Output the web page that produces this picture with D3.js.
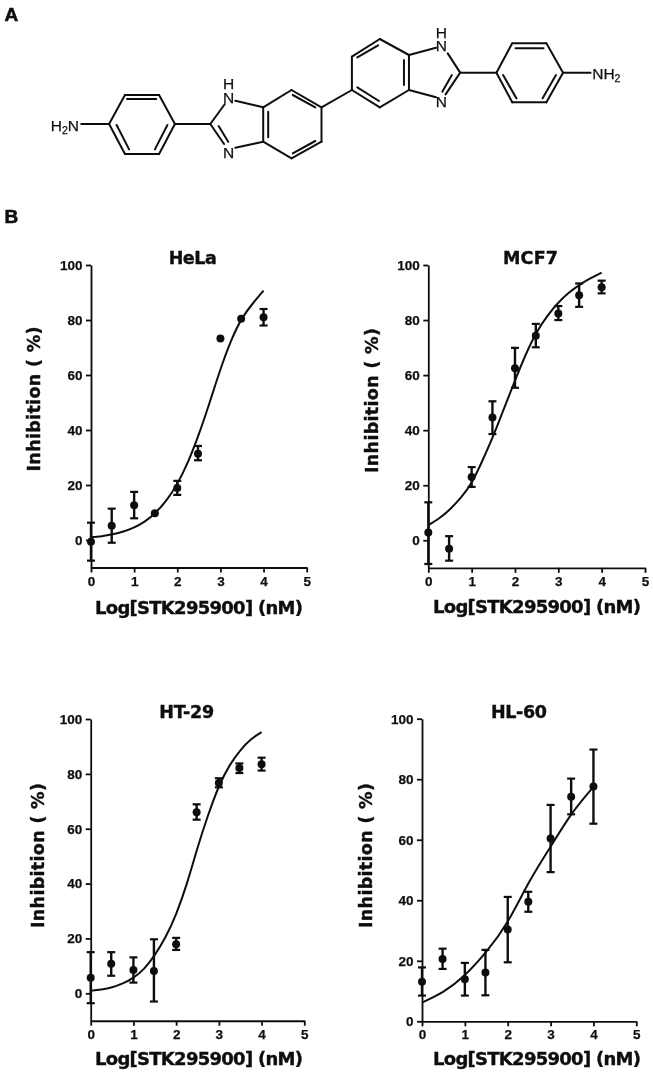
<!DOCTYPE html>
<html><head><meta charset="utf-8">
<script src="https://cdn.jsdelivr.net/npm/d3@7"></script>
<style>html,body{margin:0;padding:0;background:#fff}svg{display:block}</style>
</head><body><svg id="c" width="653" height="1073"></svg>
<script>
// ---------- data ----------
const doses = [0, 0.48, 1, 1.48, 2, 2.48, 3, 3.48, 4];
const xTicks = [0, 1, 2, 3, 4, 5];
const yTicks = [0, 20, 40, 60, 80, 100];
const xLabel = "Log[STK295900] (nM)";
const yLabel = "Inhibition ( %)";

const helaMean = [-0.6, 5.2, 12.6, 9.7, 18.9, 31.4, 73.3, 80.5, 81];
const helaHigh = [6.3, 11.4, 17.5, 9.7, 21.5, 34.2, 73.3, 80.5, 84];
const helaLow  = [-7.5, -1, 7.9, 9.7, 16.4, 29, 73.3, 80.5, 78];
const helaCurveX = [0, 0.25, 0.5, 0.75, 1, 1.25, 1.5, 1.75, 2, 2.25, 2.5, 2.75, 3, 3.25, 3.5, 3.75, 4];
const helaCurveY = [1, 1.4, 2.1, 3.1, 4.6, 6.8, 10, 14.5, 20.5, 28.5, 38.5, 50, 62, 72.5, 80.5, 86, 90.7];

const mcfMean = [2.8, -3.1, 23, 44.6, 62.5, 74.3, 82.4, 89, 91.9];
const mcfHigh = [13.8, 1.5, 26.6, 50.5, 69.9, 78.6, 85.1, 93.3, 94.3];
const mcfLow  = [-8.6, -7.4, 19.4, 38.6, 55.4, 70.1, 80, 84.8, 89.7];
const mcfCurveX = helaCurveX;
const mcfCurveY = [5.5, 8, 11.3, 15.5, 21, 29, 38, 48, 58, 67.5, 75.5, 81.5, 86.3, 90, 92.9, 95.2, 97.2];

const htMean = [5.7, 10.8, 8.5, 8.1, 17.9, 66, 76.7, 82.1, 83.5];
const htHigh = [15, 15, 13.1, 19.7, 20.2, 68.9, 78.4, 83.8, 85.9];
const htLow  = [-3.6, 6.4, 3.9, -3, 15.8, 63.3, 75.1, 80.3, 81.2];
const htCurveX = helaCurveX;
const htCurveY = [0.9, 1.4, 2.2, 3.6, 5.7, 9, 14, 20.5, 29, 40, 53, 65, 75.3, 83, 88.5, 92.5, 95.2];

const hlMean = [13.1, 20.6, 13.9, 16.1, 30.3, 39.5, 60.4, 74.2, 77.6];
const hlHigh = [17.8, 24, 19.3, 23.6, 41.1, 42.8, 71.5, 80.2, 89.8];
const hlLow  = [8.5, 17.3, 8.5, 8.6, 19.5, 36.2, 49.3, 68.4, 65.3];
const hlCurveX = [0, 0.5, 1, 1.5, 2, 2.5, 3, 3.5, 4];
const hlCurveY = [6.2, 9.8, 15.3, 23, 33, 46, 57.7, 68.7, 77.5];

// ---------- layout ----------
const panels = [
 {name:"HeLa", mean:helaMean, hi:helaHigh, lo:helaLow, cx:helaCurveX, cy:helaCurveY, x0:91, x5:306.7, y100:265, y0:540, yMin:-10,
  tx:192.7, ty:264, tw:48, xlx:199, xly:614, ylx:40, yly:399},
 {name:"MCF7", mean:mcfMean, hi:mcfHigh, lo:mcfLow, cx:mcfCurveX, cy:mcfCurveY, x0:428.3, x5:645, y100:265, y0:540.3, yMin:-10,
  tx:530.5, ty:264, tw:55, xlx:537, xly:613, ylx:378, yly:400.5},
 {name:"HT-29", mean:htMean, hi:htHigh, lo:htLow, cx:htCurveX, cy:htCurveY, x0:90.7, x5:304.3, y100:719, y0:993.3, yMin:-10,
  tx:186.7, ty:718, tw:55, xlx:199, xly:1065, ylx:44, yly:855.5},
 {name:"HL-60", mean:hlMean, hi:hlHigh, lo:hlLow, cx:hlCurveX, cy:hlCurveY, x0:422, x5:636.3, y100:718.7, y0:1021.3, yMin:0,
  tx:519, ty:718, tw:56, xlx:537, xly:1065, ylx:372, yly:855.5}
];

const svg = d3.select("#c");
const titleFont = "'DejaVu Sans', Verdana, sans-serif";
const tickFont = "'Liberation Sans', Arial, sans-serif";
svg.append("defs").append("filter").attr("id","soft").append("feGaussianBlur").attr("stdDeviation",0.3);
const root = svg.append("g").attr("filter","url(#soft)");

panels.forEach(p => {
  const x = d3.scaleLinear().domain([0,5]).range([p.x0,p.x5]);
  const y = d3.scaleLinear().domain([0,100]).range([p.y0,p.y100]);
  const g = root.append("g");
  const yBottom = y(p.yMin);

  const ax = g.append("g").attr("transform",`translate(0,${yBottom})`)
    .call(d3.axisBottom(x).tickValues(xTicks).tickFormat(d3.format("d")).tickSize(5).tickPadding(3.5).tickSizeOuter(0));
  const ay = g.append("g").attr("transform",`translate(${p.x0},0)`)
    .call(d3.axisLeft(y.copy().domain([p.yMin,100]).range([yBottom,p.y100])).tickValues(yTicks).tickFormat(d3.format("d")).tickSize(5).tickPadding(3.5).tickSizeOuter(0));
  [ax,ay].forEach(a=>{
    a.selectAll("path,line").attr("stroke","#111").attr("stroke-width",1.8);
    a.selectAll("text").attr("font-family",tickFont).attr("font-weight","bold").attr("font-size",13.5).attr("fill","#111")
      .attr("stroke","#111").attr("stroke-width",0.25);
  });

  const line = d3.line().x(d=>x(d[0])).y(d=>y(d[1])).curve(d3.curveNatural);
  g.append("path").datum(d3.zip(p.cx,p.cy)).attr("d",line)
    .attr("fill","none").attr("stroke","#111").attr("stroke-width",2);

  const rows = doses.map((d,i)=>({d,m:p.mean[i],h:p.hi[i],l:p.lo[i]}));
  const bars = rows.filter(r=>r.h!==r.l);
  g.selectAll(".eb").data(bars).join("line").attr("x1",r=>x(r.d)).attr("x2",r=>x(r.d))
    .attr("y1",r=>y(r.h)).attr("y2",r=>y(r.l)).attr("stroke","#111").attr("stroke-width",2.4);
  ["h","l"].forEach(k=>{
    g.selectAll(".cap"+k).data(bars).join("line").attr("x1",r=>x(r.d)-4).attr("x2",r=>x(r.d)+4)
      .attr("y1",r=>y(r[k])).attr("y2",r=>y(r[k])).attr("stroke","#111").attr("stroke-width",2.2);
  });
  g.selectAll(".pt").data(rows).join("circle").attr("cx",r=>x(r.d)).attr("cy",r=>y(r.m)).attr("r",4).attr("fill","#111");

  const lab = (t,xp,yp,len,size,rot) => {
    const e = g.append("text").text(t).attr("text-anchor","middle")
      .attr("font-family",titleFont).attr("font-weight","bold").attr("font-size",size).attr("fill","#111")
      .attr("stroke","#111").attr("stroke-width",0.4)
      .attr("textLength",len).attr("lengthAdjust","spacing");
    if(rot) e.attr("transform",`translate(${xp},${yp}) rotate(-90)`); else e.attr("x",xp).attr("y",yp);
  };
  lab(p.name,p.tx,p.ty,p.tw,17.5,false);
  lab(xLabel,p.xlx,p.xly,208,18,false);
  lab(yLabel,p.ylx,p.yly,145,17.5,true);
});

// panel letters
[["A",4.5,21],["B",4.5,223]].forEach(a=>root.append("text").text(a[0]).attr("x",a[1]).attr("y",a[2])
  .attr("font-family",tickFont).attr("font-weight","bold").attr("font-size",19).attr("fill","#111")
  .attr("stroke","#111").attr("stroke-width",0.6));

// ---------- structure (A), bonds read in crop coordinates ----------
const molBonds = [
 // left phenyl
 [262,372,300,285],[300,285,382,285],[382,285,420,372],[420,372,382,462],[382,462,300,462],[300,462,262,372],
 [305,297,375,297],[280,375,310,448],[402,375,372,448],
 [195,372,262,372],[420,372,505,372],
 // left imidazole
 [505,372,540,312],[505,372,538,432],[525,378,548,425],[565,302,632,322],[565,443,632,425],
 [632,322,632,425],[644,335,644,412],
 // left benzo
 [632,322,700,270],[700,270,772,322],[772,322,772,425],[772,425,700,475],[700,475,632,425],
 [703,285,757,322],[703,460,757,423],
 [772,322,845,270],
 // right benzo
 [845,270,845,170],[845,170,912,117],[912,117,982,165],[982,165,982,270],[982,270,912,322],[912,322,845,270],
 [858,172,908,136],[858,262,910,303],[970,180,970,255],
 // right imidazole
 [982,165,1047,143],[982,270,1047,292],[1075,160,1105,218],[1105,218,1070,283],[1085,225,1062,275],
 [1105,218,1192,218],
 // right phenyl
 [1192,218,1230,130],[1230,130,1312,130],[1312,130,1352,218],[1352,218,1312,307],[1312,307,1230,307],[1230,307,1192,218],
 [1238,145,1305,145],[1208,225,1240,295],[1335,225,1303,295],
 [1352,218,1418,218]
];
const molLabels = [{t:"N",x:549,y:457},{t:"N",x:1060,y:305}];
const molNH = [{x:549,yH:250,yN:292},{x:1060,yH:98,yN:135}];
const mx = d3.scaleLinear().domain([0,1568]).range([0,653]);
const my = d3.scaleLinear().domain([0,600]).range([0,200]);
const mol = root.append("g");
mol.selectAll("line").data(molBonds).join("line")
  .attr("x1",b=>mx(b[0])).attr("y1",b=>my(b[1])).attr("x2",b=>mx(b[2])).attr("y2",b=>my(b[3]))
  .attr("stroke","#111").attr("stroke-width",2).attr("stroke-linecap","round");
mol.selectAll(".n").data(molLabels).join("text").text(d=>d.t)
  .attr("x",d=>mx(d.x)).attr("y",d=>my(d.y)+5.5).attr("text-anchor","middle")
  .attr("font-family",tickFont).attr("font-size",15.5).attr("fill","#111").attr("stroke","#111").attr("stroke-width",0.25);
molNH.forEach(d=>{
  const e = mol.append("text").attr("font-family",tickFont).attr("font-size",15.5).attr("fill","#111").attr("text-anchor","middle")
    .attr("stroke","#111").attr("stroke-width",0.25);
  e.append("tspan").text("H").attr("x",mx(d.x)).attr("y",my(d.yH)+5.5);
  e.append("tspan").text("N").attr("x",mx(d.x)).attr("y",my(d.yN)+5.5);
});
const sub = (parts,xp,yp)=>{
  const e = mol.append("text").attr("x",mx(xp)).attr("y",my(yp)+5.5).attr("font-family",tickFont).attr("font-size",15.5).attr("fill","#111")
    .attr("stroke","#111").attr("stroke-width",0.25);
  parts.forEach(q=>{
    const s=e.append("tspan").text(q[0]);
    if(q[1]){s.attr("font-size",10.5).attr("dy",3);} else if(q[2]){s.attr("dy",-3);}
  });
};
sub([["H"],["2",1],["N",0,1]],122,375);
sub([["NH"],["2",1]],1422,220);
</script></body></html>
